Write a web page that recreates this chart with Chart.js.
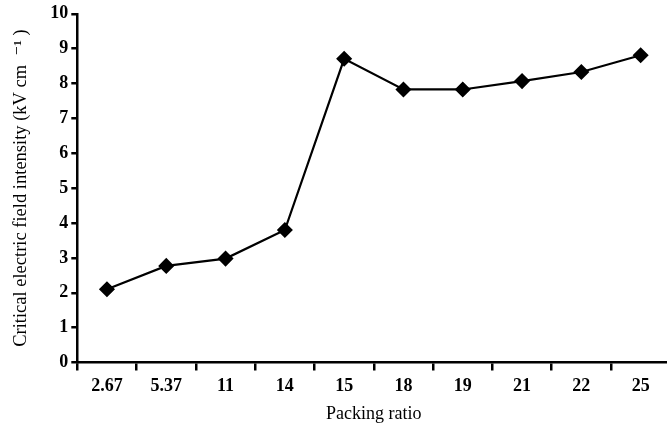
<!DOCTYPE html>
<html>
<head>
<meta charset="utf-8">
<script src="https://cdn.jsdelivr.net/npm/chart.js@4/dist/chart.umd.min.js"></script>
<style>
  html, body { margin: 0; padding: 0; background: #fff; overflow: hidden; }
  #wrap { width: 667px; height: 429px; overflow: hidden; }
  canvas { display: block; }
</style>
</head>
<body>
<div id="wrap"><canvas id="c" width="679" height="429"></canvas></div>
<script>
// Packing ratio categories and the measured critical field intensity
const packingRatios = ['2.67', '5.37', '11', '14', '15', '18', '19', '21', '22', '25'];
const fieldIntensity = [2.1, 2.77, 2.98, 3.8, 8.71, 7.83, 7.83, 8.07, 8.33, 8.81];
const yTicks = [0, 1, 2, 3, 4, 5, 6, 7, 8, 9, 10];

const serif = '"Liberation Serif", "DejaVu Serif", serif';

new Chart(document.getElementById('c'), {
  type: 'line',
  data: {
    labels: packingRatios,
    datasets: [{
      data: fieldIntensity,
      borderColor: '#000',
      backgroundColor: '#000',
      borderWidth: 2.2,
      pointStyle: 'rectRot',
      pointRadius: 6.5,
      pointHoverRadius: 6.5,
      tension: 0
    }]
  },
  options: {
    responsive: false,
    animation: false,
    layout: { padding: { top: 12, right: 0, left: 10, bottom: 0 } },
    plugins: { legend: { display: false }, tooltip: { enabled: false } },
    scales: {
      x: {
        type: 'category',
        offset: true,
        afterFit: (scale) => { scale.height = 66.5; },
        grid: {
          offset: true,
          drawOnChartArea: false,
          drawTicks: true,
          tickLength: 8,
          color: '#000',
          lineWidth: 2.5
        },
        border: { color: '#000', width: 2.5 },
        ticks: {
          color: '#000',
          font: { family: serif, size: 18, weight: 'bold' },
          padding: 5,
          maxRotation: 0,
          autoSkip: false
        },
        title: {
          display: true,
          text: 'Packing ratio',
          color: '#000',
          font: { family: serif, size: 18 },
          padding: { top: 0, bottom: 4 }
        }
      },
      y: {
        min: 0,
        max: 10,
        afterBuildTicks: (scale) => { scale.ticks = yTicks.map(v => ({ value: v })); },
        afterFit: (scale) => { scale.width = 67.3; },
        grid: {
          drawOnChartArea: false,
          drawTicks: true,
          tickLength: 6,
          color: '#000',
          lineWidth: 2.5
        },
        border: { color: '#000', width: 2.5 },
        ticks: {
          color: '#000',
          font: { family: serif, size: 18, weight: 'bold' },
          padding: 3
        },
        title: {
          display: true,
          text: 'Critical electric field intensity (kV cm  \u207B\u00B9 )',
          color: '#000',
          font: { family: serif, size: 18.5 },
          padding: { top: 0, bottom: 0 }
        }
      }
    }
  }
});
</script>
</body>
</html>
